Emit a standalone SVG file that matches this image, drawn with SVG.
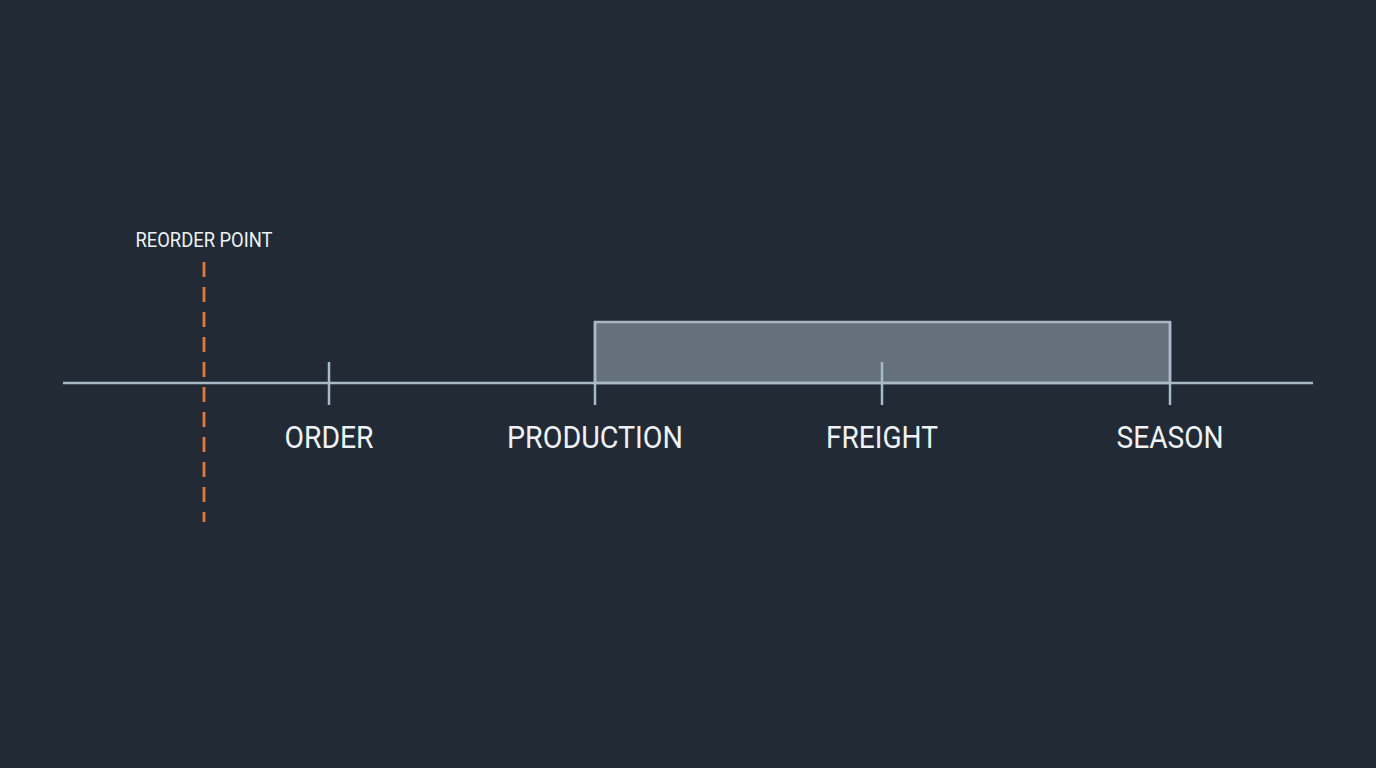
<svg xmlns="http://www.w3.org/2000/svg" width="1376" height="768" viewBox="0 0 1376 768">
<style>
.axis{stroke:#a9bac6;stroke-width:2.5;fill:none}
.lbl{font-family:Roboto,"Liberation Sans",sans-serif;font-size:31px;fill:#eef2f5;text-anchor:middle}
.small{font-family:Roboto,"Liberation Sans",sans-serif;font-size:19.5px;fill:#eef2f5;text-anchor:middle}
</style>
<rect width="1376" height="768" fill="#222a35"/>
<g id="window">
<rect x="595" y="322" width="575" height="61" fill="#64717d" stroke="#a5b5c2" stroke-width="2.5"/>
</g>
<g id="connectors">
<line class="axis" x1="63" y1="383" x2="1313" y2="383"/>
</g>
<g id="order">
<line class="axis" x1="329" y1="362" x2="329" y2="405"/>
<text class="lbl" x="329" y="448" textLength="89" lengthAdjust="spacingAndGlyphs">ORDER</text>
</g>
<g id="production">
<line class="axis" x1="595" y1="322" x2="595" y2="405"/>
<text class="lbl" x="595" y="448" textLength="176" lengthAdjust="spacingAndGlyphs">PRODUCTION</text>
</g>
<g id="freight">
<line class="axis" x1="882" y1="362" x2="882" y2="405"/>
<text class="lbl" x="882" y="448" textLength="112" lengthAdjust="spacingAndGlyphs">FREIGHT</text>
</g>
<g id="season">
<line class="axis" x1="1170" y1="322" x2="1170" y2="405"/>
<text class="lbl" x="1170" y="448" textLength="107" lengthAdjust="spacingAndGlyphs">SEASON</text>
</g>
<g id="reorder">
<line x1="204" y1="262" x2="204" y2="522" stroke="#e07a3c" stroke-width="2.8" stroke-dasharray="15 10"/>
<text class="small" x="204" y="247" textLength="137" lengthAdjust="spacingAndGlyphs">REORDER POINT</text>
</g>
</svg>
